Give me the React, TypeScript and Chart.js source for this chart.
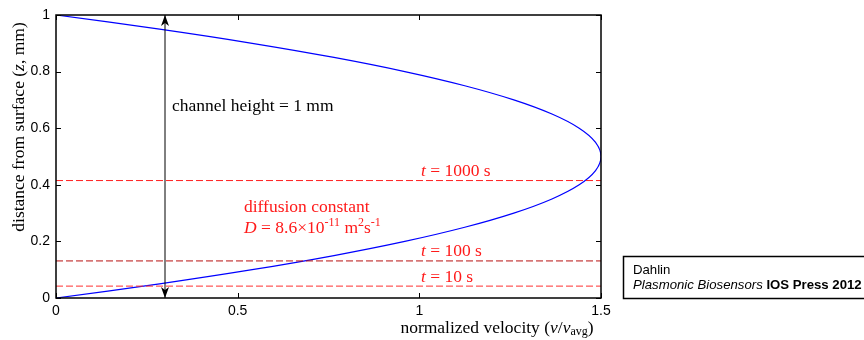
import React, { useEffect, useRef } from "react";
import { Chart, registerables } from "chart.js";

Chart.register(...registerables);

// Parabolic flow profile: distance from surface (mm) vs normalized velocity
const profileZ = [
  0, 0.05, 0.1, 0.15, 0.2, 0.25, 0.3, 0.35, 0.4, 0.45, 0.5,
  0.55, 0.6, 0.65, 0.7, 0.75, 0.8, 0.85, 0.9, 0.95, 1,
];
const profileV = [
  0, 0.285, 0.54, 0.765, 0.96, 1.125, 1.26, 1.365, 1.44, 1.485, 1.5,
  1.485, 1.44, 1.365, 1.26, 1.125, 0.96, 0.765, 0.54, 0.285, 0,
];

// Diffusion distances after the given times (mm)
const diffusionLabels = ["t = 1000 s", "t = 100 s", "t = 10 s"];
const diffusionDepths = [0.415, 0.131, 0.042];
const diffusionColors = ["#ff2020", "#b81010", "#ff3030"];

// Channel height marker
const channelX = 0.3;
const channelSpan = [0, 1];

const xTicks = [0, 0.5, 1, 1.5];
const yTicks = [0, 0.2, 0.4, 0.6, 0.8, 1];

const SERIF = "'Liberation Serif', 'Times New Roman', serif";
const SANS = "'Liberation Sans', Arial, sans-serif";

type Seg = { t: string; f: string; dy?: number };

function drawRich(ctx: CanvasRenderingContext2D, segs: Seg[], x: number, y: number, color: string) {
  ctx.save();
  ctx.fillStyle = color;
  ctx.textBaseline = "middle";
  ctx.textAlign = "left";
  let cx = x;
  for (const s of segs) {
    ctx.font = s.f;
    ctx.fillText(s.t, cx, y + (s.dy || 0));
    cx += ctx.measureText(s.t).width;
  }
  ctx.restore();
}

function richWidth(ctx: CanvasRenderingContext2D, segs: Seg[]) {
  let w = 0;
  ctx.save();
  for (const s of segs) {
    ctx.font = s.f;
    w += ctx.measureText(s.t).width;
  }
  ctx.restore();
  return w;
}

const overlay = {
  id: "overlay",
  afterDraw(chart: any) {
    const ctx: CanvasRenderingContext2D = chart.ctx;
    const xs = chart.scales.x;
    const ys = chart.scales.y;
    const { left, right, top, bottom } = chart.chartArea;

    // arrowheads on the channel-height marker
    const ax = xs.getPixelForValue(channelX);
    const ay0 = ys.getPixelForValue(channelSpan[0]);
    const ay1 = ys.getPixelForValue(channelSpan[1]);
    ctx.save();
    ctx.fillStyle = "#000";
    ctx.beginPath();
    ctx.moveTo(ax, ay1);
    ctx.lineTo(ax - 4, ay1 + 11);
    ctx.lineTo(ax, ay1 + 8);
    ctx.lineTo(ax + 4, ay1 + 11);
    ctx.closePath();
    ctx.fill();
    ctx.beginPath();
    ctx.moveTo(ax, ay0);
    ctx.lineTo(ax - 4, ay0 - 11);
    ctx.lineTo(ax, ay0 - 8);
    ctx.lineTo(ax + 4, ay0 - 11);
    ctx.closePath();
    ctx.fill();
    ctx.restore();

    // axes box with inward ticks
    ctx.save();
    ctx.strokeStyle = "#000";
    ctx.lineWidth = 1.5;
    ctx.strokeRect(left, top, right - left, bottom - top);
    ctx.lineWidth = 1;
    ctx.beginPath();
    for (const v of xTicks) {
      const px = Math.round(xs.getPixelForValue(v)) + 0.5;
      ctx.moveTo(px, bottom);
      ctx.lineTo(px, bottom - 5);
      ctx.moveTo(px, top);
      ctx.lineTo(px, top + 5);
    }
    for (const v of yTicks) {
      const py = Math.round(ys.getPixelForValue(v)) + 0.5;
      ctx.moveTo(left, py);
      ctx.lineTo(left + 5, py);
      ctx.moveTo(right, py);
      ctx.lineTo(right - 5, py);
    }
    ctx.stroke();
    ctx.restore();

    // axis titles
    const f16 = `17.5px ${SERIF}`;
    const i16 = `italic 17.5px ${SERIF}`;
    const i11 = `12px ${SERIF}`;
    const xTitle: Seg[] = [
      { t: "normalized velocity (", f: f16 },
      { t: "v", f: i16 },
      { t: "/", f: f16 },
      { t: "v", f: i16 },
      { t: "avg", f: i11, dy: 4 },
      { t: ")", f: f16 },
    ];
    const xw = richWidth(ctx, xTitle);
    drawRich(ctx, xTitle, 497 - xw / 2, 328, "#000");

    const yTitle: Seg[] = [
      { t: "distance from surface (", f: f16 },
      { t: "z", f: i16 },
      { t: ", mm)", f: f16 },
    ];
    const yw = richWidth(ctx, yTitle);
    ctx.save();
    ctx.translate(19, 127);
    ctx.rotate(-Math.PI / 2);
    drawRich(ctx, yTitle, -yw / 2, 0, "#000");
    ctx.restore();

    // annotations
    drawRich(ctx, [{ t: "channel height = 1 mm", f: f16 }], 172, 106, "#000");
    const red = "#ff1a1a";
    const labelY = [171, 251, 277];
    diffusionLabels.forEach((lab, i) => {
      drawRich(ctx, [
        { t: "t", f: i16 },
        { t: lab.slice(1), f: f16 },
      ], 421, labelY[i], red);
    });
    drawRich(ctx, [{ t: "diffusion constant", f: f16 }], 244, 207, red);
    drawRich(ctx, [
      { t: "D", f: i16 },
      { t: " = 8.6×10", f: f16 },
      { t: "-11", f: i11, dy: -5 },
      { t: " m", f: f16 },
      { t: "2", f: i11, dy: -5 },
      { t: "s", f: f16 },
      { t: "-1", f: i11, dy: -5 },
    ], 244, 228, red);

    // credit box
    ctx.save();
    ctx.strokeStyle = "#000";
    ctx.lineWidth = 1.5;
    ctx.strokeRect(623.5, 256.5, 260, 42);
    ctx.restore();
    drawRich(ctx, [{ t: "Dahlin", f: `13.2px ${SANS}` }], 633, 270, "#000");
    drawRich(ctx, [
      { t: "Plasmonic Biosensors ", f: `italic 13.2px ${SANS}` },
      { t: "IOS Press 2012", f: `bold 13.2px ${SANS}` },
    ], 633, 285, "#000");
  },
};

export default function App() {
  const ref = useRef<HTMLCanvasElement | null>(null);

  useEffect(() => {
    if (!ref.current) return;
    const datasets: any[] = [];
    diffusionDepths.forEach((d, i) => {
      datasets.push({
        label: diffusionLabels[i],
        data: [
          { x: 0, y: d },
          { x: 1.5, y: d },
        ],
        borderColor: diffusionColors[i],
        borderWidth: 1,
        borderDash: [7, 3],
        pointRadius: 0,
        showLine: true,
        tension: 0,
      });
    });
    datasets.push({
      label: "channel height",
      data: [
        { x: channelX, y: channelSpan[0] },
        { x: channelX, y: channelSpan[1] },
      ],
      borderColor: "#000",
      borderWidth: 1,
      pointRadius: 0,
      showLine: true,
      tension: 0,
    });
    datasets.push({
      label: "velocity profile",
      data: profileZ.map((z, i) => ({ x: profileV[i], y: z })),
      borderColor: "#0000ff",
      borderWidth: 1.2,
      pointRadius: 0,
      showLine: true,
      tension: 0.4,
    });

    const chart = new Chart(ref.current, {
      type: "scatter",
      data: { datasets },
      options: {
        animation: false,
        responsive: false,
        layout: { padding: { left: 0, right: 263, top: 15, bottom: 0 } },
        plugins: { legend: { display: false }, tooltip: { enabled: false } },
        scales: {
          x: {
            type: "linear",
            min: 0,
            max: 1.5,
            afterBuildTicks: (s: any) => {
              s.ticks = xTicks.map((v) => ({ value: v }));
            },
            afterFit: (s: any) => {
              s.height = 42;
            },
            ticks: {
              color: "#000",
              font: { family: SANS, size: 14 },
              padding: 5,
              maxRotation: 0,
              autoSkip: false,
              callback: (v: any) => String(v),
            },
            grid: { display: false, drawTicks: false },
            border: { display: false },
          },
          y: {
            type: "linear",
            min: 0,
            max: 1,
            afterBuildTicks: (s: any) => {
              s.ticks = yTicks.map((v) => ({ value: v }));
            },
            afterFit: (s: any) => {
              s.width = 56;
            },
            ticks: {
              color: "#000",
              font: { family: SANS, size: 14 },
              padding: 6,
              autoSkip: false,
              callback: (v: any) => String(v),
            },
            grid: { display: false, drawTicks: false },
            border: { display: false },
          },
        },
      },
      plugins: [overlay],
    });
    return () => chart.destroy();
  }, []);

  return (
    <div style={{ position: "absolute", left: 0, top: 0, width: 864, height: 340, background: "#fff" }}>
      <canvas ref={ref} width={864} height={340} style={{ display: "block" }} />
    </div>
  );
}
